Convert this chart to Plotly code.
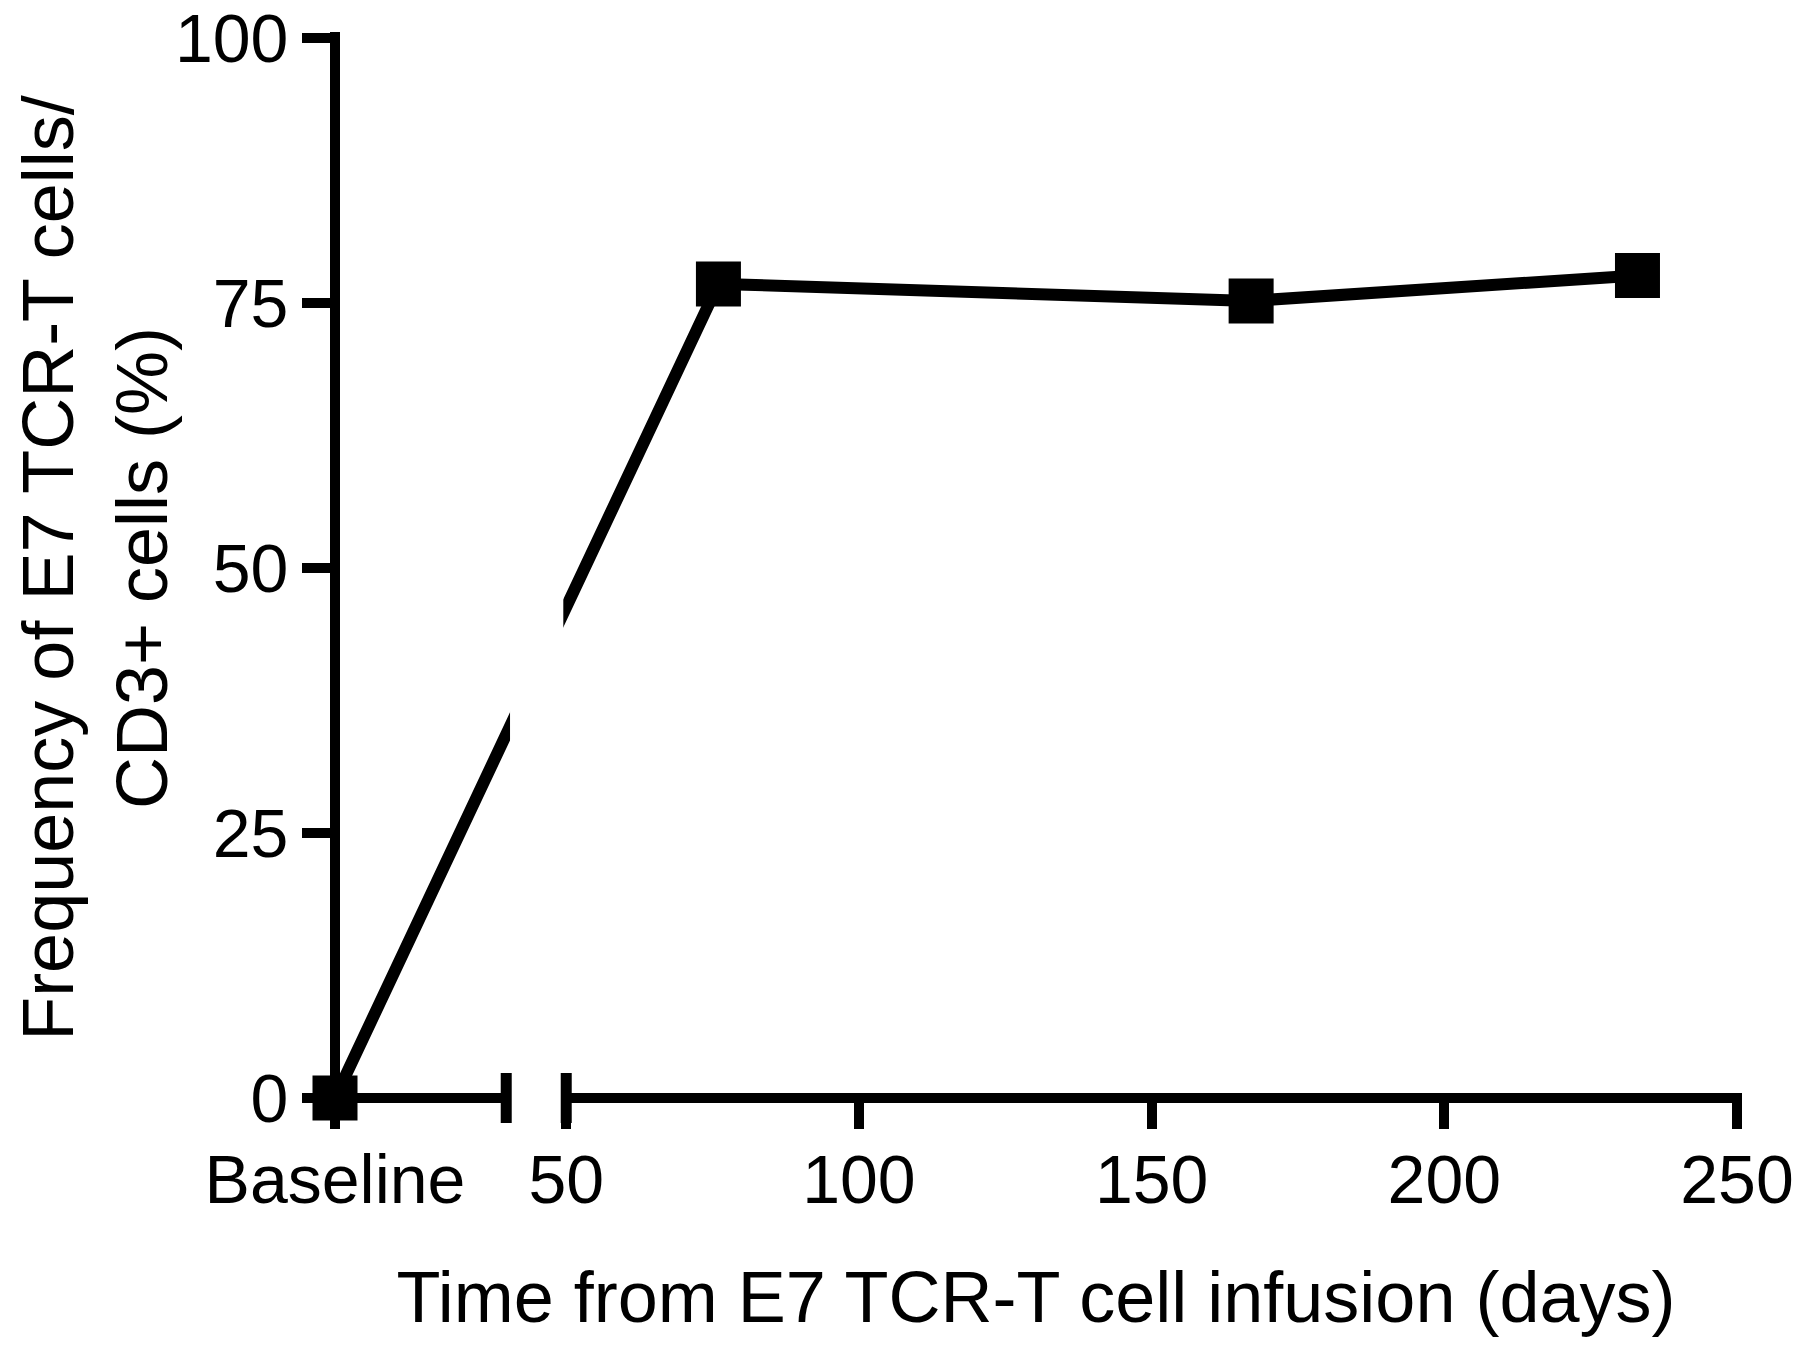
import plotly.graph_objects as go

# ---- data ----
time_labels = ["Baseline", "76", "167", "233"]
days = [None, 76, 167, 233]          # None = baseline (pre-infusion)
frequency = [0.0, 76.8, 75.2, 77.6]  # % E7 TCR-T cells / CD3+ cells

x_tick_text = ["Baseline", "50", "100", "150", "200", "250"]
y_tick_vals = [0, 25, 50, 75, 100]

# ---- broken-axis layout constants ----
BASELINE_POS = 10.5   # axis position that stands for "Baseline"
BREAK_START = 39.75   # end of the first axis segment
BREAK_END = 50.0      # start of the second axis segment
X_MAX = 250.0
Y_MAX = 100.0

# the page body adds an 8 px margin, so the figure is 8 px smaller
W, H = 1792, 1339
ML, MR, MT, MB = 327, 63, 30, 249
PW = W - ML - MR
PH = H - MT - MB

FONT = "Liberation Sans, Arial, Helvetica, sans-serif"
LW = 10

x_vals = [BASELINE_POS if d is None else d for d in days]
x_tick_vals = [BASELINE_POS, 50, 100, 150, 200, 250]


def xp(d):
    return (d - BASELINE_POS) / (X_MAX - BASELINE_POS)


fig = go.Figure()
fig.add_trace(go.Scatter(
    x=x_vals, y=frequency, mode="lines+markers",
    line=dict(color="black", width=12),
    marker=dict(symbol="square", size=45, color="black", line=dict(width=0)),
    cliponaxis=False, showlegend=False,
    text=time_labels,
))

shapes = []
# white gap hiding the data line across the axis break
shapes.append(dict(type="rect", xref="x", yref="paper",
                   x0=40.4, x1=49.5, y0=0.04, y1=1.0,
                   fillcolor="white", line=dict(width=0), layer="above"))
# y axis line
shapes.append(dict(type="line", xref="paper", yref="paper",
                   x0=0, x1=0, y0=-LW / 2 / PH, y1=1 + 6 / PH,
                   line=dict(color="black", width=LW), layer="above"))
# x axis segment 1
shapes.append(dict(type="line", xref="paper", yref="paper",
                   x0=0, x1=xp(BREAK_START), y0=0, y1=0,
                   line=dict(color="black", width=LW), layer="above"))
# x axis segment 2
shapes.append(dict(type="line", xref="paper", yref="paper",
                   x0=xp(BREAK_END), x1=1 + LW / 2 / PW, y0=0, y1=0,
                   line=dict(color="black", width=LW), layer="above"))
# break ticks
for b in (BREAK_START, BREAK_END):
    shapes.append(dict(type="line", xref="paper", yref="paper",
                       x0=xp(b), x1=xp(b), y0=-25 / PH, y1=25 / PH,
                       line=dict(color="black", width=LW + 1), layer="above"))

fig.update_layout(
    width=W, height=H,
    margin=dict(l=ML, r=MR, t=MT, b=MB),
    paper_bgcolor="white", plot_bgcolor="white",
    font=dict(family=FONT, color="black"),
    shapes=shapes,
    xaxis=dict(
        range=[BASELINE_POS, X_MAX],
        tickvals=x_tick_vals, ticktext=x_tick_text,
        ticks="outside", ticklen=30, tickwidth=LW, tickcolor="black",
        showline=False, showgrid=False, zeroline=False,
        tickfont=dict(size=68, family=FONT, color="black"),
        ticklabelstandoff=-8,
        ticklabeloverflow="allow",
        title=dict(text="Time from E7 TCR-T cell infusion (days)",
                   font=dict(size=72, family=FONT, color="black"),
                   standoff=56),
        automargin=False,
    ),
    yaxis=dict(
        range=[0, Y_MAX],
        tickvals=y_tick_vals,
        ticks="outside", ticklen=32, tickwidth=LW, tickcolor="black",
        showline=False, showgrid=False, zeroline=False,
        tickfont=dict(size=68, family=FONT, color="black"),
        ticklabeloverflow="allow",
        title=dict(text="Frequency of E7 TCR-T cells/<br>CD3+ cells (%)",
                   font=dict(size=72, family=FONT, color="black"),
                   standoff=30),
        automargin=False,
    ),
)

fig.write_html("out.html")
